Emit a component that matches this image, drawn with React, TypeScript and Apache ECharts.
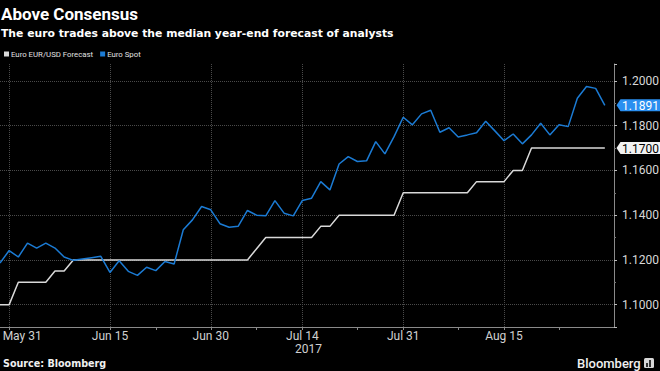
import React, { useEffect, useRef } from 'react';
import * as echarts from 'echarts';

const dates = [
  '2017-05-30', '2017-05-31',
  '2017-06-01', '2017-06-02', '2017-06-05', '2017-06-06', '2017-06-07', '2017-06-08', '2017-06-09',
  '2017-06-12', '2017-06-13', '2017-06-14', '2017-06-15', '2017-06-16', '2017-06-19', '2017-06-20',
  '2017-06-21', '2017-06-22', '2017-06-23', '2017-06-26', '2017-06-27', '2017-06-28', '2017-06-29', '2017-06-30',
  '2017-07-03', '2017-07-04', '2017-07-05', '2017-07-06', '2017-07-07', '2017-07-10', '2017-07-11',
  '2017-07-12', '2017-07-13', '2017-07-14', '2017-07-17', '2017-07-18', '2017-07-19', '2017-07-20',
  '2017-07-21', '2017-07-24', '2017-07-25', '2017-07-26', '2017-07-27', '2017-07-28', '2017-07-31',
  '2017-08-01', '2017-08-02', '2017-08-03', '2017-08-04', '2017-08-07', '2017-08-08', '2017-08-09',
  '2017-08-10', '2017-08-11', '2017-08-14', '2017-08-15', '2017-08-16', '2017-08-17', '2017-08-18',
  '2017-08-21', '2017-08-22', '2017-08-23', '2017-08-24', '2017-08-25', '2017-08-28', '2017-08-29',
  '2017-08-30', '2017-08-31',
];

const forecast = [
  1.1, 1.1,
  1.11, 1.11, 1.11, 1.11,
  1.115, 1.115,
  1.12, 1.12, 1.12, 1.12, 1.12, 1.12, 1.12, 1.12, 1.12, 1.12,
  1.12, 1.12, 1.12, 1.12, 1.12, 1.12, 1.12, 1.12, 1.12, 1.12,
  1.125,
  1.13, 1.13, 1.13, 1.13, 1.13, 1.13,
  1.135, 1.135,
  1.14, 1.14, 1.14, 1.14, 1.14, 1.14, 1.14,
  1.15, 1.15, 1.15, 1.15, 1.15, 1.15, 1.15, 1.15,
  1.155, 1.155, 1.155, 1.155,
  1.16, 1.16,
  1.17, 1.17, 1.17, 1.17, 1.17, 1.17, 1.17, 1.17, 1.17,
];

const spot = [
  1.1186, 1.1242, 1.1213, 1.1275, 1.1253, 1.1275, 1.1253, 1.1213, 1.1198, 1.1204,
  1.1210, 1.1216, 1.1144, 1.1196, 1.1149, 1.1131, 1.1167, 1.1152, 1.1193, 1.1182,
  1.1335, 1.1379, 1.1439, 1.1424, 1.1362, 1.1346, 1.1351, 1.1421, 1.1400, 1.1397,
  1.1465, 1.1409, 1.1397, 1.1466, 1.1476, 1.1550, 1.1513, 1.1629, 1.1662, 1.1640,
  1.1643, 1.1729, 1.1674, 1.1751, 1.1838, 1.1804, 1.1853, 1.1869, 1.1771, 1.1791,
  1.1750, 1.1759, 1.1769, 1.1820, 1.1777, 1.1733, 1.1763, 1.1719, 1.1759, 1.1811,
  1.1759, 1.1804, 1.1796, 1.1923, 1.1975, 1.1967, 1.1891,
];

const majorTickDates = ['2017-05-31', '2017-06-15', '2017-06-30', '2017-07-14', '2017-07-31', '2017-08-15'];
const minorTickDates = ['2017-06-22', '2017-07-07', '2017-07-24', '2017-08-08', '2017-08-23'];
const yearLabelDate = '2017-07-14';
const yearLabel = '2017';
const monthNames = ['Jan', 'Feb', 'Mar', 'Apr', 'May', 'Jun', 'Jul', 'Aug', 'Sep', 'Oct', 'Nov', 'Dec'];

const titleText = 'Above Consensus';
const subtitleText = 'The euro trades above the median year-end forecast of analysts';
const sourceText = 'Source: Bloomberg';
const seriesNames = ['Euro EUR/USD Forecast', 'Euro Spot'];

const FONT = 'Roboto, "Noto Sans", sans-serif';
const WIDE = '"DejaVu Sans", Roboto, sans-serif';
const BLUE = '#1b7bd4';
const WHITE = '#d9d9d9';

function fmtDate(d: string) {
  const parts = d.split('-');
  return monthNames[Number(parts[1]) - 1] + ' ' + Number(parts[2]);
}

export default function App() {
  const ref = useRef<HTMLDivElement>(null);

  useEffect(() => {
    if (!ref.current) return;
    const chart = echarts.init(ref.current, undefined, { renderer: 'svg' });

    const isMajor = (_i: number, v: string) => majorTickDates.indexOf(v) >= 0;
    const isTick = (_i: number, v: string) => majorTickDates.indexOf(v) >= 0 || minorTickDates.indexOf(v) >= 0;

    chart.setOption({
      animation: false,
      backgroundColor: '#000',
      textStyle: { fontFamily: FONT },
      title: [
        {
          text: titleText, left: 1, top: 5, padding: 0,
          textStyle: { color: '#fff', fontSize: 17, fontWeight: 'bold', fontFamily: FONT },
        },
        {
          text: subtitleText, left: 1, top: 28, padding: 0,
          textStyle: { color: '#fff', fontSize: 10.8, fontWeight: 'bold', fontFamily: WIDE },
        },
      ],
      legend: {
        data: seriesNames,
        left: 4, top: 50, padding: 0,
        icon: 'rect', itemWidth: 5, itemHeight: 5, itemGap: 7,
        textStyle: { color: '#e0e0e0', fontSize: 7.8, fontFamily: FONT, padding: [0, 0, 0, -3] },
      },
      grid: { left: 0, right: 46, top: 64, bottom: 44, containLabel: false, outerBoundsMode: 'none' },
      xAxis: {
        type: 'category',
        data: dates,
        boundaryGap: false,
        axisLine: { show: true, lineStyle: { color: '#8a8a8a', width: 1 } },
        axisTick: { show: true, interval: isTick, length: 3, lineStyle: { color: '#8a8a8a' } },
        axisLabel: {
          interval: isMajor,
          color: '#d0d0d0', fontSize: 12, fontFamily: FONT, margin: 2, lineHeight: 13,
          formatter: (v: string, idx: number) => {
            const t = fmtDate(v);
            if (idx === 1) return '{first|' + t + '}';
            if (v === yearLabelDate) return t + '\n{yr|' + yearLabel + '}';
            return t;
          },
          rich: {
            first: { padding: [0, 0, 0, 26], color: '#d0d0d0', fontSize: 12, fontFamily: FONT, lineHeight: 13 },
            yr: { padding: [0, 0, 0, 12], color: '#d0d0d0', fontSize: 12, fontFamily: FONT, lineHeight: 13 },
          },
        },
        splitLine: { show: true, interval: isMajor, lineStyle: { color: '#4a4a4a', type: 'dotted', width: 1 } },
      },
      yAxis: {
        type: 'value',
        position: 'right',
        min: 1.09,
        max: 1.2076,
        splitNumber: 6,
        axisLine: { show: true, lineStyle: { color: '#8a8a8a', width: 1 } },
        axisTick: { show: true, length: 3, lineStyle: { color: '#bbbbbb' } },
        minorTick: { show: true, splitNumber: 2, length: 2, lineStyle: { color: '#777' } },
        axisLabel: {
          color: '#d8d8d8', fontSize: 12, fontFamily: FONT, margin: 8,
          showMinLabel: false, showMaxLabel: false,
          formatter: (v: number) => (Math.abs(v * 50 - Math.round(v * 50)) < 1e-6 ? v.toFixed(4) : ''),
        },
        splitLine: {
          show: true, showMinLine: false, showMaxLine: false,
          lineStyle: { color: '#4a4a4a', type: 'dotted', width: 1 },
        },
      },
      series: [
        {
          name: seriesNames[0], type: 'line', data: forecast, showSymbol: false,
          color: WHITE, lineStyle: { color: WHITE, width: 1.5 }, z: 2,
        },
        {
          name: seriesNames[1], type: 'line', data: spot, showSymbol: false,
          color: BLUE, lineStyle: { color: BLUE, width: 1.5 }, z: 3,
        },
      ],
    });

    const lastSpot = spot[spot.length - 1];
    const lastFc = forecast[forecast.length - 1];
    const yS = chart.convertToPixel({ yAxisIndex: 0 }, lastSpot) as number;
    const yF = chart.convertToPixel({ yAxisIndex: 0 }, lastFc) as number;
    const ax = chart.convertToPixel({ xAxisIndex: 0 }, dates[dates.length - 1]) as number;

    const tag = (y: number, fill: string, textFill: string, text: string) => [
      {
        type: 'polygon',
        shape: { points: [[ax + 2.5, y], [ax + 6.5, y - 6], [660, y - 6], [660, y + 6], [ax + 6.5, y + 6]] },
        style: { fill },
        z: 100,
      },
      {
        type: 'text', x: ax + 8, y: y + 0.5, z: 101,
        style: { text, fill: textFill, fontSize: 12, fontFamily: FONT, align: 'left', verticalAlign: 'middle' },
      },
    ];

    chart.setOption({
      graphic: [
        ...tag(yS, '#2a8ff0', '#ffffff', lastSpot.toFixed(4)),
        ...tag(yF, '#f2f2f2', '#000000', lastFc.toFixed(4)),
        {
          type: 'text', x: 3, y: 363, z: 100,
          style: { text: sourceText, fill: '#f0f0f0', fontSize: 9.6, fontWeight: 'bold', fontFamily: WIDE, align: 'left', verticalAlign: 'middle' },
        },
        {
          type: 'text', x: 577, y: 363, z: 100,
          style: { text: 'Bloomberg', fill: '#f0f0f0', fontSize: 13, fontWeight: 500, fontFamily: FONT, align: 'left', verticalAlign: 'middle' },
        },
        { type: 'rect', shape: { x: 644, y: 358, width: 10, height: 10, r: 1.5 }, style: { fill: '#d8d8d8' }, z: 100 },
        { type: 'rect', shape: { x: 646, y: 363, width: 2, height: 4 }, style: { fill: '#333' }, z: 101 },
        { type: 'rect', shape: { x: 649, y: 360, width: 2, height: 7 }, style: { fill: '#333' }, z: 101 },
      ],
    });

    return () => chart.dispose();
  }, []);

  return <div ref={ref} style={{ width: 660, height: 371, position: 'absolute', left: 0, top: 0 }} />;
}
